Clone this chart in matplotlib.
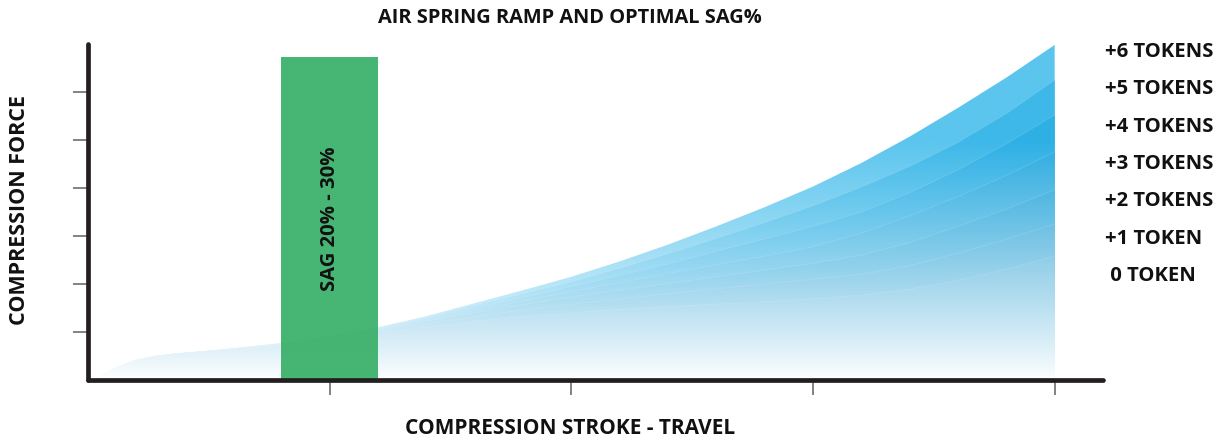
import numpy as np
import matplotlib
matplotlib.use("Agg")
import matplotlib.pyplot as plt
from matplotlib.colors import to_rgb
from matplotlib.patches import Polygon

plt.rcParams['font.family'] = ['Open Sans', 'DejaVu Sans']

# travel (% of stroke) and force per token count
stroke = [0, 1, 2, 3, 5, 7, 9, 12, 16, 20, 25, 30, 35, 40, 45, 50,
          55, 60, 65, 70, 75, 80, 85, 90, 95, 100]
tokens_6 = [0, 0.05, 0.17, 0.27, 0.42, 0.50, 0.55, 0.60, 0.68, 0.77, 0.92, 1.10, 1.33,
            1.60, 1.87, 2.15, 2.47, 2.82, 3.20, 3.60, 4.03, 4.52, 5.07, 5.67, 6.30, 6.98]
tokens_5 = [0, 0.05, 0.17, 0.27, 0.42, 0.50, 0.55, 0.60, 0.68, 0.77, 0.91, 1.09, 1.31,
            1.56, 1.80, 2.05, 2.33, 2.63, 2.95, 3.28, 3.63, 4.02, 4.45, 4.95, 5.55, 6.25]
tokens_4 = [0, 0.05, 0.17, 0.27, 0.42, 0.50, 0.55, 0.60, 0.68, 0.76, 0.90, 1.07, 1.28,
            1.50, 1.72, 1.95, 2.18, 2.42, 2.68, 2.94, 3.20, 3.50, 3.90, 4.38, 4.92, 5.52]
tokens_3 = [0, 0.05, 0.17, 0.27, 0.42, 0.50, 0.55, 0.60, 0.67, 0.75, 0.89, 1.05, 1.25,
            1.45, 1.65, 1.84, 2.03, 2.22, 2.40, 2.58, 2.78, 3.06, 3.42, 3.82, 4.26, 4.75]
tokens_2 = [0, 0.05, 0.17, 0.27, 0.42, 0.50, 0.55, 0.60, 0.67, 0.74, 0.88, 1.03, 1.22,
            1.40, 1.57, 1.73, 1.87, 2.01, 2.15, 2.29, 2.43, 2.60, 2.86, 3.20, 3.56, 3.96]
tokens_1 = [0, 0.05, 0.17, 0.27, 0.42, 0.50, 0.55, 0.60, 0.66, 0.73, 0.86, 1.00, 1.17,
            1.32, 1.46, 1.58, 1.69, 1.80, 1.90, 2.00, 2.10, 2.20, 2.38, 2.64, 2.93, 3.25]
tokens_0 = [0, 0.05, 0.17, 0.27, 0.42, 0.50, 0.55, 0.60, 0.65, 0.71, 0.84, 0.97, 1.10,
            1.22, 1.32, 1.40, 1.47, 1.53, 1.58, 1.63, 1.69, 1.77, 1.89, 2.08, 2.31, 2.58]

token_labels = ['+6 TOKENS', '+5 TOKENS', '+4 TOKENS', '+3 TOKENS',
                '+2 TOKENS', '+1 TOKEN', ' 0 TOKEN']
layer_colors = ['#5BC5EE', '#3DB8E8', '#2EB0E5', '#2CABDF',
                '#26A5DA', '#29A2D6', '#34A4D5']

sag_range = [20, 30]
sag_height = 6.73

layers = [tokens_6, tokens_5, tokens_4, tokens_3, tokens_2, tokens_1, tokens_0]

fig = plt.figure(figsize=(12.29, 4.41), dpi=100)
ax = fig.add_axes([88 / 1229, 61 / 441, 1015 / 1229, 336 / 441])

# vertical fade: white at the bottom, full colour from ~5 up
ygrid = np.linspace(0, 7, 300)
t = np.clip(ygrid / 5.0, 0, 1) ** 0.9

for i, (vals, col) in enumerate(zip(layers, layer_colors)):
    c = np.array(to_rgb(col))
    img = 1 - t[:, None, None] * (1 - c[None, None, :])
    img = np.repeat(img, 2, axis=1)
    pts = list(zip(stroke, vals)) + [(stroke[-1], 0), (stroke[0], 0)]
    poly = Polygon(pts, closed=True, facecolor='none', edgecolor='none',
                   transform=ax.transData)
    ax.add_patch(poly)
    im = ax.imshow(img, extent=(0, 100, 0, 7), origin='lower', aspect='auto',
                   interpolation='bilinear', zorder=1 + i * 0.1)
    im.set_clip_path(poly)
    if i > 0:
        # faint light seam between bands
        ax.plot(stroke, vals, color='white', lw=0.6, alpha=0.15, zorder=1.05 + i * 0.1)

# optimal sag band
ax.bar(np.mean(sag_range), sag_height, width=sag_range[1] - sag_range[0],
       color='#3DB16B', alpha=0.95, zorder=3)
ax.text(np.mean(sag_range), 3.35, 'SAG 20% - 30%', rotation=90, ha='center',
        va='center', fontsize=14.6, fontweight='bold', color='#111111', zorder=4)

# token labels on the right
for k, lab in enumerate(token_labels):
    ax.text(105.2, 6.83 - k * 0.777, lab, ha='left', va='center',
            fontsize=14.6, fontweight='bold', color='#111111', clip_on=False)

ax.set_xlim(0, 105)
ax.set_ylim(0, 7)
ax.set_xticks([25, 50, 75, 100])
ax.set_yticks([1, 2, 3, 4, 5, 6])
ax.tick_params(axis='both', length=11, width=1.2, color='#6d6d6d',
               labelbottom=False, labelleft=False, direction='out')

for side in ['top', 'right']:
    ax.spines[side].set_visible(False)
for side in ['left', 'bottom']:
    ax.spines[side].set_linewidth(3.4)
    ax.spines[side].set_color('#231F20')
    ax.spines[side].set_capstyle('round')
    ax.spines[side].set_zorder(5)

fig.text(570 / 1229, 1 - 18 / 441, 'AIR SPRING RAMP AND OPTIMAL SAG%',
         ha='center', va='center', fontsize=14.4, fontweight='bold', color='#111111')
fig.text(570 / 1229, 1 - 428 / 441, 'COMPRESSION STROKE - TRAVEL',
         ha='center', va='center', fontsize=15, fontweight='bold', color='#111111')
fig.text(20 / 1229, 1 - 210 / 441, 'COMPRESSION FORCE', rotation=90,
         ha='center', va='center', fontsize=15.5, fontweight='bold', color='#111111')

fig.savefig('out.png', dpi=100)
